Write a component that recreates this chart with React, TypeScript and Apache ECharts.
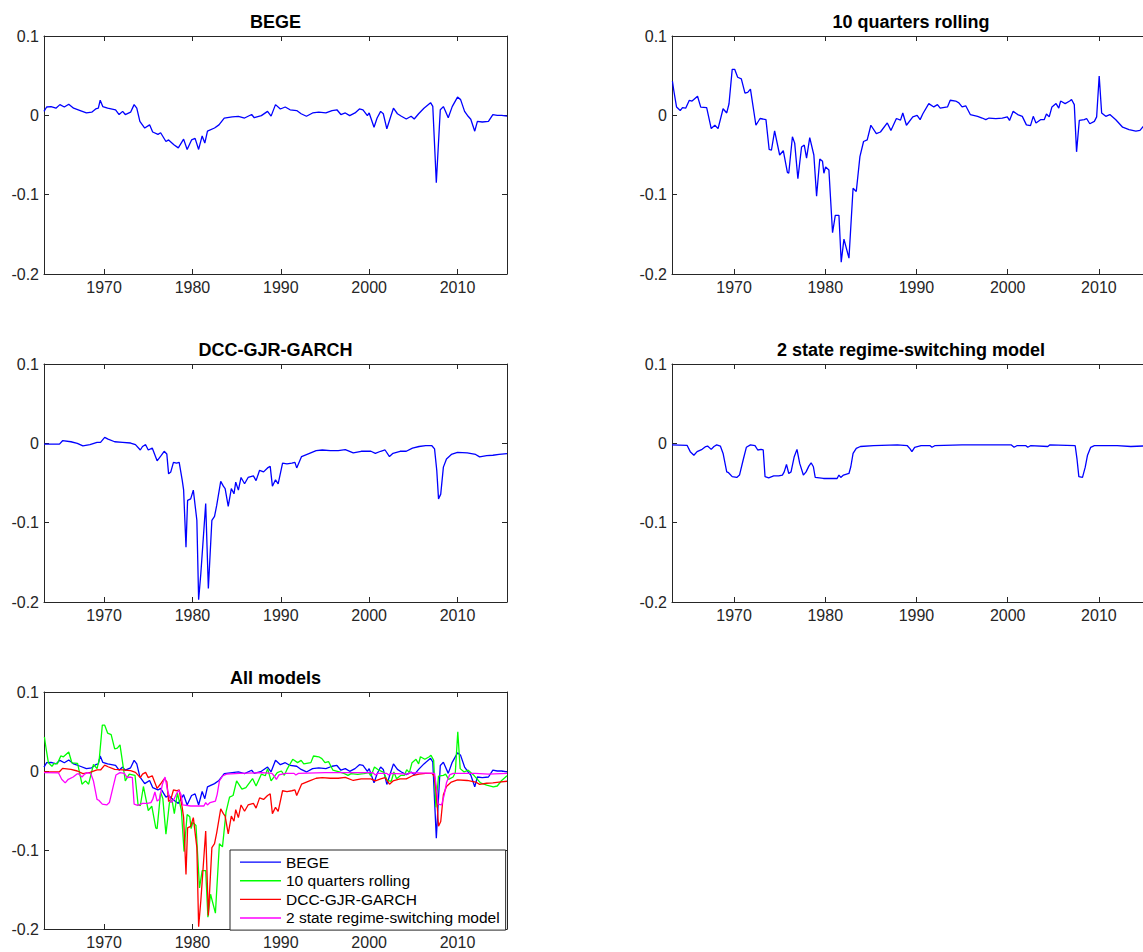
import React, { useEffect, useRef } from 'react';
import * as echarts from 'echarts';

// ---------- data: [year, value] ----------
const bege: [number, number][] = [
  [1963.2, 0.005], [1963.5, 0.0105], [1964.0, 0.011], [1964.55, 0.009], [1965.0, 0.0135], [1965.5, 0.0105],
  [1966.0, 0.014], [1966.55, 0.009], [1967.3, 0.006], [1968.0, 0.003], [1968.6, 0.004], [1969.05, 0.008],
  [1969.35, 0.009], [1969.56, 0.019], [1969.85, 0.011], [1970.4, 0.009], [1971.3, 0.007], [1971.7, 0.001],
  [1972.1, 0.005], [1972.4, 0.001], [1973.0, 0.004], [1973.4, 0.0135], [1973.7, 0.009], [1974.05, -0.0075],
  [1974.6, -0.016], [1975.15, -0.012], [1975.5, -0.021], [1976.1, -0.024], [1976.4, -0.022], [1977.0, -0.033],
  [1977.3, -0.031], [1977.9, -0.037], [1978.4, -0.041], [1979.0, -0.03], [1979.4, -0.043], [1979.9, -0.031],
  [1980.3, -0.029], [1980.7, -0.043], [1981.1, -0.026], [1981.4, -0.035], [1981.7, -0.02], [1982.5, -0.016],
  [1983.0, -0.012], [1983.6, -0.0034], [1984.5, -0.002], [1985.2, -0.0012], [1985.9, -0.0034], [1986.7, 0.001],
  [1987.0, -0.003], [1987.8, -0.0004], [1988.5, 0.005], [1988.9, -0.001], [1989.4, 0.0135], [1989.95, 0.008],
  [1990.5, 0.0105], [1991.05, 0.007], [1991.8, 0.006], [1992.3, 0.002], [1992.9, -0.0012], [1993.6, 0.003],
  [1994.3, 0.004], [1995.1, 0.003], [1995.8, 0.006], [1996.35, 0.007], [1996.8, 0.001], [1997.3, 0.003],
  [1997.8, -0.0004], [1998.4, 0.003], [1998.9, 0.008], [1999.3, 0.007], [1999.8, -0.0004], [2000.0, 0.003],
  [2000.55, -0.015], [2000.9, -0.0034], [2001.3, 0.005], [2001.6, 0.002], [2002.0, -0.017], [2002.45, -0.0012],
  [2002.75, 0.009], [2003.2, 0.002], [2003.65, -0.0012], [2004.2, -0.0046], [2004.75, -0.0012], [2005.1, -0.0046],
  [2005.6, 0.002], [2006.2, 0.009], [2006.95, 0.016], [2007.2, 0.0114], [2007.6, -0.085], [2008.05, 0.007],
  [2008.4, 0.011], [2008.6, 0.006], [2008.95, -0.003], [2009.4, 0.011], [2010.0, 0.023], [2010.35, 0.0198],
  [2010.8, 0.005], [2011.2, -0.0012], [2011.5, -0.005], [2011.95, -0.02], [2012.25, -0.0076], [2012.8, -0.0084],
  [2013.5, -0.0076], [2014.0, 0.001], [2014.5, 0.0], [2015.0, 0.0], [2015.6, -0.001],
];

const rolling10: [number, number][] = [
  [1963.25, 0.043], [1963.4, 0.031], [1963.7, 0.0104], [1964.1, 0.006], [1964.35, 0.0096], [1964.7, 0.009],
  [1965.1, 0.019], [1965.4, 0.018], [1966.0, 0.024], [1966.35, 0.0104], [1967.0, 0.0096], [1967.5, -0.0167],
  [1967.9, -0.0125], [1968.25, -0.0167], [1968.8, 0.0083], [1969.2, 0.003], [1969.45, 0.0146], [1969.8, 0.058],
  [1970.07, 0.058], [1970.4, 0.048], [1970.8, 0.046], [1971.2, 0.028], [1971.5, 0.029], [1971.8, 0.033],
  [1972.4, -0.0125], [1972.85, -0.004], [1973.5, -0.0054], [1973.85, -0.043], [1974.1, -0.044], [1974.45, -0.0196],
  [1975.0, -0.05], [1975.4, -0.0446], [1975.85, -0.072], [1976.0, -0.073], [1976.4, -0.027], [1976.65, -0.035],
  [1977.0, -0.08], [1977.4, -0.04], [1977.7, -0.0375], [1977.95, -0.054], [1978.3, -0.028], [1978.75, -0.05],
  [1979.05, -0.102], [1979.4, -0.055], [1979.7, -0.058], [1979.85, -0.073], [1980.04, -0.065], [1980.4, -0.069],
  [1980.8, -0.148], [1981.1, -0.126], [1981.5, -0.126], [1981.75, -0.185], [1982.05, -0.156], [1982.6, -0.18],
  [1983.05, -0.092], [1983.4, -0.096], [1983.8, -0.052], [1984.2, -0.033], [1984.6, -0.031], [1985.0, -0.0125],
  [1985.6, -0.023], [1986.05, -0.021], [1986.8, -0.0096], [1987.2, -0.019], [1987.8, -0.004], [1988.25, -0.006],
  [1988.5, 0.003], [1988.9, -0.0125], [1989.6, -0.002], [1990.07, 0.0], [1990.4, -0.0054], [1990.7, 0.002],
  [1991.35, 0.0148], [1991.9, 0.0106], [1992.3, 0.0135], [1992.6, 0.009], [1993.4, 0.0106], [1993.7, 0.019],
  [1994.3, 0.018], [1994.65, 0.0157], [1995.0, 0.0106], [1995.4, 0.012], [1995.9, 0.001], [1996.7, -0.0013],
  [1997.2, -0.0034], [1997.6, -0.0055], [1997.95, -0.0034], [1998.7, -0.0042], [1999.4, -0.0034], [1999.96, -0.002],
  [2000.2, -0.0064], [2000.6, 0.005], [2001.1, 0.001], [2001.6, -0.0013], [2002.05, -0.012], [2002.5, -0.013],
  [2002.8, -0.0013], [2003.1, -0.0097], [2003.6, -0.0055], [2004.0, -0.0055], [2004.25, 0.0017], [2004.55, -0.002],
  [2004.85, 0.0106], [2005.3, 0.0148], [2005.6, 0.009], [2005.8, 0.018], [2006.3, 0.0148], [2006.8, 0.018],
  [2007.0, 0.02], [2007.3, 0.0135], [2007.55, -0.046], [2007.85, -0.0064], [2008.4, -0.0055], [2008.65, -0.004],
  [2009.0, -0.0106], [2009.5, -0.0076], [2009.75, -0.002], [2010.03, 0.0496], [2010.3, 0.003], [2010.75, -0.0013],
  [2011.2, 0.001], [2011.85, -0.0055], [2012.6, -0.015], [2013.3, -0.018], [2014.05, -0.02], [2014.5, -0.019],
  [2015.0, -0.012], [2015.6, -0.006],
];

const dccGjrGarch: [number, number][] = [
  [1963.2, -0.001], [1964.95, -0.001], [1965.3, 0.0033], [1966.25, 0.002], [1966.97, 0.0], [1967.6, -0.0033],
  [1968.4, -0.0017], [1969.2, 0.0013], [1969.6, 0.0013], [1970.07, 0.0075], [1970.45, 0.0054], [1971.2, 0.002],
  [1972.1, 0.0013], [1973.0, 0.0004], [1973.55, -0.0017], [1974.1, -0.0084], [1974.35, -0.004], [1974.7, -0.0017],
  [1975.0, -0.0084], [1975.45, -0.006], [1976.0, -0.022], [1976.45, -0.0155], [1976.8, -0.01], [1977.1, -0.0134],
  [1977.3, -0.0385], [1977.55, -0.036], [1977.85, -0.024], [1978.2, -0.025], [1978.5, -0.024], [1978.85, -0.047],
  [1979.0, -0.0586], [1979.27, -0.131], [1979.45, -0.072], [1979.8, -0.07], [1980.1, -0.059], [1980.5, -0.097],
  [1980.7, -0.197], [1980.95, -0.164], [1981.5, -0.076], [1981.8, -0.183], [1982.2, -0.097], [1982.5, -0.092],
  [1982.75, -0.078], [1983.2, -0.048], [1983.5, -0.054], [1983.7, -0.057], [1984.05, -0.0795], [1984.4, -0.057],
  [1984.7, -0.0636], [1984.9, -0.049], [1985.2, -0.059], [1985.5, -0.043], [1985.9, -0.051], [1986.3, -0.043],
  [1986.9, -0.041], [1987.2, -0.047], [1987.6, -0.034], [1988.05, -0.036], [1988.5, -0.031], [1988.8, -0.029],
  [1989.05, -0.054], [1989.4, -0.046], [1989.7, -0.051], [1990.2, -0.025], [1990.7, -0.026], [1991.25, -0.025],
  [1991.6, -0.024], [1991.8, -0.031], [1992.35, -0.0167], [1993.25, -0.0126], [1994.0, -0.0092], [1994.7, -0.0084],
  [1995.6, -0.0092], [1996.5, -0.0092], [1997.3, -0.008], [1998.2, -0.012], [1999.1, -0.01], [2000.2, -0.01],
  [2000.7, -0.0126], [2001.3, -0.01], [2001.8, -0.0084], [2002.3, -0.0167], [2002.7, -0.0126], [2003.5, -0.01],
  [2004.2, -0.01], [2004.9, -0.006], [2005.65, -0.004], [2006.4, -0.003], [2007.1, -0.003], [2007.4, -0.007],
  [2007.65, -0.034], [2007.85, -0.07], [2008.1, -0.064], [2008.4, -0.03], [2008.75, -0.0197], [2009.3, -0.014],
  [2010.0, -0.0113], [2011.1, -0.012], [2012.05, -0.014], [2012.5, -0.017], [2013.3, -0.0155], [2014.0, -0.015],
  [2014.7, -0.014], [2015.6, -0.013],
];

const regime2: [number, number][] = [
  [1963.2, -0.002], [1964.85, -0.0025], [1965.2, -0.0105], [1965.6, -0.015], [1965.95, -0.0105], [1966.5, -0.0076],
  [1966.9, -0.004], [1967.1, -0.0034], [1967.5, -0.0076], [1967.8, -0.004], [1968.1, -0.002], [1968.5, -0.0034],
  [1968.8, -0.0127], [1969.2, -0.036], [1969.4, -0.037], [1969.8, -0.042], [1970.3, -0.043], [1970.6, -0.04],
  [1971.0, -0.021], [1971.35, -0.005], [1971.8, -0.002], [1972.3, -0.003], [1972.6, -0.0084], [1972.96, -0.0076],
  [1973.2, -0.0084], [1973.4, -0.042], [1973.8, -0.0435], [1974.35, -0.041], [1974.9, -0.041], [1975.3, -0.04],
  [1975.5, -0.036], [1975.75, -0.0266], [1976.0, -0.038], [1976.25, -0.036], [1976.6, -0.0169], [1976.9, -0.0076],
  [1977.2, -0.0253], [1977.6, -0.04], [1977.9, -0.036], [1978.2, -0.0287], [1978.45, -0.0245], [1978.7, -0.0295],
  [1978.9, -0.043], [1979.8, -0.0443], [1981.3, -0.0443], [1981.5, -0.04], [1981.7, -0.043], [1982.0, -0.04],
  [1982.6, -0.038], [1982.8, -0.0295], [1983.05, -0.0127], [1983.4, -0.0063], [1983.85, -0.004], [1985.3, -0.003],
  [1987.9, -0.002], [1989.0, -0.003], [1989.3, -0.007], [1989.5, -0.0105], [1989.8, -0.005], [1990.5, -0.003],
  [1991.5, -0.003], [1991.7, -0.005], [1992.0, -0.003], [1995.0, -0.002], [1998.0, -0.002], [2000.4, -0.002],
  [2000.7, -0.005], [2001.0, -0.003], [2002.0, -0.003], [2002.2, -0.005], [2002.5, -0.003], [2004.4, -0.004],
  [2004.6, -0.002], [2007.4, -0.003], [2007.6, -0.02], [2007.8, -0.042], [2008.2, -0.043], [2008.5, -0.03],
  [2008.75, -0.015], [2009.1, -0.005], [2009.5, -0.003], [2012.0, -0.003], [2013.5, -0.004], [2015.6, -0.003],
];

const seriesNames = ['BEGE', '10 quarters rolling', 'DCC-GJR-GARCH', '2 state regime-switching model'];
const seriesColors = ['#0000ff', '#00ff00', '#ff0000', '#ff00ff'];
const seriesData = [bege, rolling10, dccGjrGarch, regime2];
const panelTitles = ['BEGE', '10 quarters rolling', 'DCC-GJR-GARCH', '2 state regime-switching model', 'All models'];
const yTickValues = [-0.2, -0.1, 0, 0.1];
const xRange = [1963.2, 2015.6];

// ---------- layout ----------
const FONT = '"Liberation Sans", Arial, Helvetica, sans-serif';
const AX = '#262626';
const grids = [
  { left: 44, top: 36, width: 463, height: 238 },
  { left: 672, top: 36, width: 478, height: 238 },
  { left: 44, top: 364, width: 463, height: 238 },
  { left: 672, top: 364, width: 478, height: 238 },
  { left: 44, top: 692, width: 463, height: 237 },
];

function buildOption() {
  const xAxis: any[] = [];
  const yAxis: any[] = [];
  const series: any[] = [];
  const graphic: any[] = [];

  grids.forEach((g, gi) => {
    const xBase = {
      type: 'value',
      gridIndex: gi,
      min: xRange[0],
      max: xRange[1],
      splitLine: { show: false },
      axisLine: { show: true, onZero: false, lineStyle: { color: AX, width: 1 } },
      axisTick: { show: true, inside: true, length: 5, lineStyle: { color: AX, width: 1 } },
    };
    xAxis.push({
      ...xBase,
      position: 'bottom',
      axisLabel: {
        show: true,
        fontSize: 16,
        fontFamily: FONT,
        color: AX,
        margin: 5,
        formatter: (v: number) => (Math.abs(v - Math.round(v / 10) * 10) < 1e-6 ? String(Math.round(v)) : ''),
      },
    });
    xAxis.push({ ...xBase, position: 'top', axisLabel: { show: false } });

    const yBase = {
      type: 'value',
      gridIndex: gi,
      min: yTickValues[0],
      max: yTickValues[yTickValues.length - 1],
      interval: 0.1,
      splitLine: { show: false },
      axisLine: { show: true, onZero: false, lineStyle: { color: AX, width: 1 } },
      axisTick: { show: true, inside: true, length: 5, lineStyle: { color: AX, width: 1 } },
    };
    yAxis.push({
      ...yBase,
      position: 'left',
      axisLabel: {
        show: true,
        fontSize: 16,
        fontFamily: FONT,
        color: AX,
        margin: 5,
        formatter: (v: number) => {
          const r = Math.round(v * 10) / 10;
          return r === 0 ? '0' : r.toFixed(1);
        },
      },
    });
    yAxis.push({ ...yBase, position: 'right', axisLabel: { show: false } });

    graphic.push({
      type: 'text',
      x: g.left + g.width / 2,
      y: g.top - 14.5,
      style: {
        text: panelTitles[gi],
        font: `bold 18px ${FONT}`,
        fill: '#000',
        textAlign: 'center',
        textVerticalAlign: 'middle',
      },
    });
  });

  // combined panel (drawn first so the legend picks these colours)
  seriesData.forEach((d, i) => {
    series.push({
      type: 'line',
      name: seriesNames[i],
      data: d,
      xAxisIndex: 8,
      yAxisIndex: 8,
      symbol: 'none',
      showSymbol: false,
      clip: true,
      lineStyle: { color: seriesColors[i], width: 1.3 },
      itemStyle: { color: seriesColors[i] },
      z: 2 + i,
    });
  });
  // individual panels
  seriesData.forEach((d, i) => {
    series.push({
      type: 'line',
      name: seriesNames[i] + ' (panel)',
      data: d,
      xAxisIndex: 2 * i,
      yAxisIndex: 2 * i,
      symbol: 'none',
      showSymbol: false,
      clip: true,
      lineStyle: { color: '#0000ff', width: 1.3 },
      itemStyle: { color: '#0000ff' },
    });
  });

  return {
    animation: false,
    backgroundColor: '#ffffff',
    textStyle: { fontFamily: FONT },
    grid: grids.map((g) => ({ ...g, containLabel: false, outerBoundsMode: 'none' })),
    xAxis,
    yAxis,
    series,
    graphic,
    legend: {
      data: seriesNames.map((n) => ({ name: n, icon: 'rect' })),
      orient: 'vertical',
      left: 230,
      top: 850,
      align: 'left',
      itemWidth: 41,
      itemHeight: 1.4,
      itemGap: 0.3,
      padding: [3, 6, 3, 10],
      borderColor: AX,
      borderWidth: 1,
      backgroundColor: '#ffffff',
      selectedMode: false,
      textStyle: { fontSize: 15.5, fontFamily: FONT, color: '#000', lineHeight: 18.3 },
      z: 10,
    },
  };
}

export default function App() {
  const ref = useRef<HTMLDivElement>(null);
  useEffect(() => {
    if (!ref.current) return;
    const chart = echarts.init(ref.current, undefined, { renderer: 'svg' });
    chart.setOption(buildOption() as any);
    return () => chart.dispose();
  }, []);
  return (
    <div
      ref={ref}
      style={{ position: 'absolute', left: 0, top: 0, width: 1143, height: 952, background: '#fff' }}
    />
  );
}
